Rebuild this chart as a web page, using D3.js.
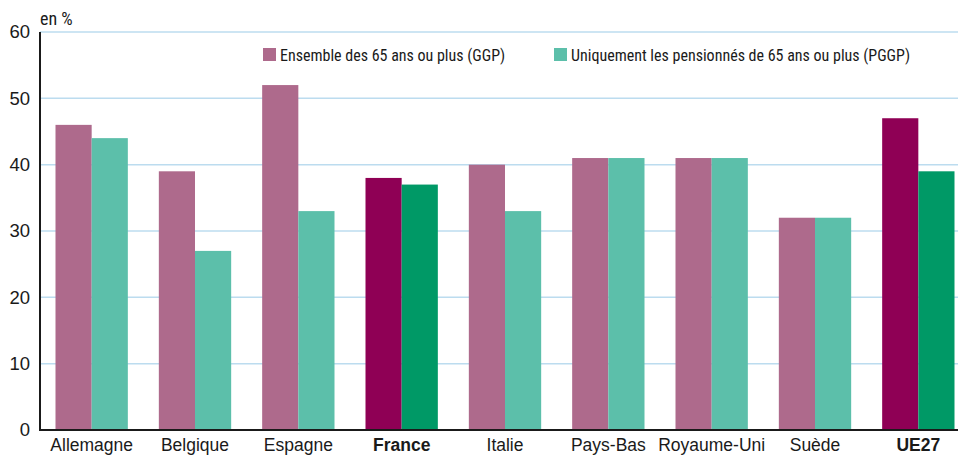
<!DOCTYPE html>
<html>
<head>
<meta charset="utf-8">
<script src="https://cdn.jsdelivr.net/npm/d3@7"></script>
<style>
  body { margin: 0; background: #fff; }
  svg { display: block; font-family: "Liberation Sans Narrow", "Roboto Condensed", "Liberation Sans", sans-serif; }
</style>
</head>
<body>
<svg></svg>
<script>
"use strict";

const categories = ["Allemagne", "Belgique", "Espagne", "France", "Italie", "Pays-Bas", "Royaume-Uni", "Suède", "UE27"];
const ggp = [46, 39, 52, 38, 40, 41, 41, 32, 47];
const pggp = [44, 27, 33, 37, 33, 41, 41, 32, 39];
const highlighted = ["France", "UE27"];
const yTicks = [0, 10, 20, 30, 40, 50, 60];
const seriesNames = ["Ensemble des 65 ans ou plus (GGP)", "Uniquement les pensionnés de 65 ans ou plus (PGGP)"];

const width = 958;
const height = 457;
const plotLeft = 40;
const plotTop = 32;
const plotBottom = 430;

const colors = {
  ggp: "#ae6a8c",
  pggp: "#5cbfaa",
  ggpHi: "#8f0055",
  pggpHi: "#009966",
};

const svg = d3.select("svg").attr("width", width).attr("height", height);

const xScale = d3.scaleBand()
  .domain(categories)
  .range([plotLeft, 970])
  .paddingInner(0.3)
  .paddingOuter(0.15);

const xSub = d3.scaleBand()
  .domain(["ggp", "pggp"])
  .range([0, xScale.bandwidth()]);

const yScale = d3.scaleLinear().domain([0, 60]).range([plotBottom, plotTop]);

// grid
svg.append("g")
  .selectAll("line")
  .data(yTicks.filter((t) => t > 0))
  .enter()
  .append("line")
  .attr("x1", plotLeft)
  .attr("x2", width)
  .attr("y1", (d) => yScale(d))
  .attr("y2", (d) => yScale(d))
  .attr("stroke", "#bcdcef")
  .attr("stroke-width", 1.5);

// bars
const rows = categories.map((c, i) => ({ cat: c, ggp: ggp[i], pggp: pggp[i] }));
const groups = svg.append("g")
  .selectAll("g")
  .data(rows)
  .enter()
  .append("g")
  .attr("transform", (d) => `translate(${xScale(d.cat)},0)`);

groups.selectAll("rect")
  .data((d) => ["ggp", "pggp"].map((k) => ({ key: k, value: d[k], hi: highlighted.includes(d.cat) })))
  .enter()
  .append("rect")
  .attr("x", (d) => xSub(d.key))
  .attr("width", xSub.bandwidth())
  .attr("y", (d) => yScale(d.value))
  .attr("height", (d) => plotBottom - yScale(d.value))
  .attr("fill", (d) => (d.hi ? colors[d.key + "Hi"] : colors[d.key]));

// y axis
const yAxis = d3.axisLeft(yScale).tickValues(yTicks).tickSize(0).tickPadding(10);
const yG = svg.append("g").attr("transform", `translate(${plotLeft},0)`).call(yAxis);
yG.select(".domain").remove();
yG.selectAll("text").attr("font-size", 18.5).attr("fill", "#1a1a1a").attr("font-family", "inherit");

svg.append("line")
  .attr("x1", plotLeft).attr("x2", plotLeft)
  .attr("y1", plotTop).attr("y2", plotBottom + 1)
  .attr("stroke", "#1a1a1a").attr("stroke-width", 2);

// x axis
const xAxis = d3.axisBottom(xScale).tickSize(0).tickPadding(9);
const xG = svg.append("g").attr("transform", `translate(0,${plotBottom})`).call(xAxis);
xG.select(".domain").remove();
xG.selectAll("text")
  .attr("font-size", 17.5)
  .attr("fill", "#1a1a1a")
  .attr("font-family", "inherit")
  .attr("font-weight", (d) => (highlighted.includes(d) ? "bold" : "normal"));

svg.append("line")
  .attr("x1", plotLeft - 1).attr("x2", width)
  .attr("y1", plotBottom).attr("y2", plotBottom)
  .attr("stroke", "#1a1a1a").attr("stroke-width", 2);

// unit label
svg.append("text")
  .attr("x", 40)
  .attr("y", 25)
  .attr("font-size", 18)
  .attr("fill", "#1a1a1a")
  .text("en %");

// legend
const legendItems = [
  { x: 263, name: seriesNames[0], color: colors.ggp },
  { x: 554, name: seriesNames[1], color: colors.pggp },
];
const lg = svg.append("g")
  .selectAll("g")
  .data(legendItems)
  .enter()
  .append("g")
  .attr("transform", (d) => `translate(${d.x},48)`);
lg.append("rect").attr("width", 13).attr("height", 13).attr("fill", (d) => d.color);
lg.append("text")
  .attr("x", 17)
  .attr("y", 12.5)
  .attr("font-size", 16)
  .attr("fill", "#1a1a1a")
  .text((d) => d.name);
</script>
</body>
</html>
